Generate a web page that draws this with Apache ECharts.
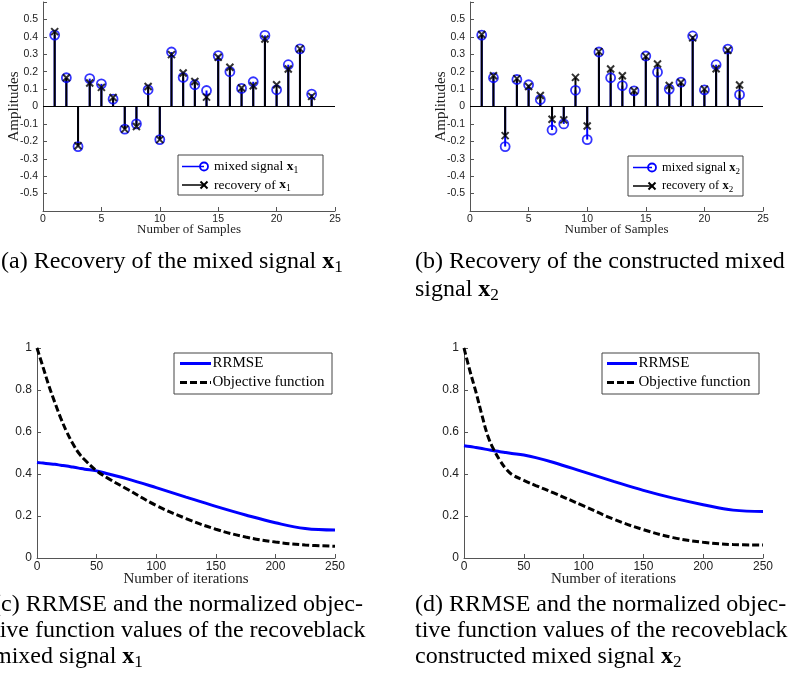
<!DOCTYPE html>
<html>
<head>
<meta charset="utf-8">
<script src="https://cdn.jsdelivr.net/npm/echarts@6/dist/echarts.min.js"></script>
<style>
  html, body { margin: 0; padding: 0; background: #fff; }
  #chart { width: 800px; height: 677px; }
</style>
</head>
<body>
<div id="chart"></div>
<script>
// sample index of the stem plots
const samples = [1, 2, 3, 4, 5, 6, 7, 8, 9, 10, 11, 12, 13, 14, 15, 16, 17, 18, 19, 20, 21, 22, 23];

// (a) mixed signal x1 and its recovery
const mixedX1 = [0.41, 0.165, -0.23, 0.16, 0.13, 0.042, -0.13, -0.10, 0.096, -0.19, 0.313, 0.167,
                 0.125, 0.092, 0.292, 0.20, 0.104, 0.142, 0.408, 0.096, 0.24, 0.331, 0.071];
const recovX1 = [0.43, 0.165, -0.225, 0.135, 0.11, 0.052, -0.13, -0.115, 0.115, -0.19, 0.298, 0.192,
                 0.144, 0.054, 0.283, 0.225, 0.106, 0.119, 0.388, 0.125, 0.215, 0.331, 0.058];

// (b) constructed mixed signal x2 and its recovery
const mixedX2 = [0.41, 0.165, -0.23, 0.155, 0.125, 0.04, -0.135, -0.10, 0.093, -0.19, 0.313, 0.165,
                 0.12, 0.09, 0.29, 0.197, 0.10, 0.14, 0.405, 0.095, 0.24, 0.33, 0.068];
const recovX2 = [0.413, 0.177, -0.167, 0.16, 0.115, 0.063, -0.073, -0.077, 0.167, -0.112, 0.315, 0.215,
                 0.177, 0.09, 0.288, 0.244, 0.121, 0.138, 0.394, 0.10, 0.217, 0.323, 0.123];

// iterations for (c) and (d)
const iters = [0, 5, 10, 15, 20, 25, 30, 35, 40, 50, 60, 75, 100, 125, 150, 175, 200, 225, 250];
const rrmseC = [0.455, 0.452, 0.449, 0.446, 0.442, 0.438, 0.433, 0.428, 0.423, 0.415, 0.40, 0.378,
                0.335, 0.29, 0.246, 0.205, 0.168, 0.14, 0.133];
const objC   = [1.0, 0.91, 0.82, 0.74, 0.665, 0.60, 0.545, 0.50, 0.468, 0.415, 0.378, 0.33,
                0.25, 0.188, 0.137, 0.10, 0.076, 0.062, 0.056];
const rrmseD = [0.535, 0.531, 0.526, 0.521, 0.516, 0.511, 0.506, 0.502, 0.498, 0.49, 0.478, 0.455,
                0.41, 0.365, 0.322, 0.285, 0.254, 0.228, 0.222];
const objD   = [1.0, 0.89, 0.79, 0.68, 0.58, 0.515, 0.465, 0.425, 0.398, 0.37, 0.345, 0.31,
                0.248, 0.185, 0.135, 0.097, 0.075, 0.064, 0.062];

const ampTicks = [-0.5, 0.5];      // outermost labelled amplitudes
const SERIF = 'Liberation Serif';
const SANS = 'Liberation Sans';
const BLUE = '#0000ff';
const AXIS = '#555';

const pairs = (xs, ys) => xs.map((x, i) => [x, ys[i]]);

function axisBase(gridIndex, fontSize) {
  return {
    type: 'value', gridIndex,
    nameMoveOverlap: false,
    axisLine: { onZero: false, lineStyle: { color: AXIS, width: 1 } },
    axisTick: { inside: true, length: 4, lineStyle: { color: AXIS } },
    splitLine: { show: false },
    axisLabel: { color: '#222', fontFamily: SANS, fontSize },
    nameTextStyle: { color: '#222', fontFamily: SERIF }
  };
}

function stemX(g) {
  return Object.assign(axisBase(g, 10.5), {
    min: 0, max: 25, interval: 5,
    name: 'Number of Samples', nameLocation: 'middle', nameGap: 12,
    nameTextStyle: { color: '#222', fontFamily: SERIF, fontSize: 13 },
    axisLabel: { color: '#222', fontFamily: SANS, fontSize: 10.5, margin: 3 }
  });
}
function stemY(g) {
  return Object.assign(axisBase(g, 10.5), {
    min: -0.6, max: 0.6, interval: 0.1,
    name: 'Amplitudes', nameLocation: 'middle', nameRotate: 90, nameGap: 21,
    nameTextStyle: { color: '#222', fontFamily: SERIF, fontSize: 15 },
    axisLabel: {
      color: '#222', fontFamily: SANS, fontSize: 10.5, margin: 5,
      formatter: v => (v < ampTicks[0] - 0.05 || v > ampTicks[1] + 0.05) ? '' : String(+v.toFixed(1))
    }
  });
}
function iterX(g) {
  return Object.assign(axisBase(g, 12), {
    min: 0, max: 250, interval: 50,
    name: 'Number of iterations', nameLocation: 'middle', nameGap: 14,
    nameTextStyle: { color: '#222', fontFamily: SERIF, fontSize: 15 },
    axisLabel: { color: '#222', fontFamily: SANS, fontSize: 12, margin: 3 }
  });
}
function iterY(g) {
  return Object.assign(axisBase(g, 12), {
    min: 0, max: 1, interval: 0.2,
    axisLabel: { color: '#222', fontFamily: SANS, fontSize: 12, margin: 5 }
  });
}

function stemSeries(g, mixed, recov) {
  const common = { xAxisIndex: g, yAxisIndex: g, barWidth: 2, barGap: '-100%' };
  return [
    Object.assign({ type: 'bar', data: pairs(samples, mixed), itemStyle: { color: BLUE } }, common),
    { type: 'scatter', xAxisIndex: g, yAxisIndex: g, data: pairs(samples, mixed),
      symbol: 'circle', symbolSize: 9,
      itemStyle: { color: 'transparent', borderColor: BLUE, borderWidth: 1.8 } },
    Object.assign({ type: 'bar', data: pairs(samples, recov), itemStyle: { color: '#000' },
      markLine: { silent: true, symbol: ['none', 'none'], label: { show: false },
        lineStyle: { color: '#000', width: 1, type: 'solid' }, data: [{ yAxis: 0 }] } }, common),
    { type: 'scatter', xAxisIndex: g, yAxisIndex: g, data: pairs(samples, recov),
      symbol: 'path://M0,0L10,10M10,0L0,10', symbolSize: 7,
      itemStyle: { color: 'transparent', borderColor: '#000', borderWidth: 2 } }
  ];
}

function curveSeries(g, rrmse, obj) {
  return [
    { type: 'line', xAxisIndex: g, yAxisIndex: g, data: pairs(iters, rrmse), smooth: 0.4,
      showSymbol: false, lineStyle: { color: BLUE, width: 3 } },
    { type: 'line', xAxisIndex: g, yAxisIndex: g, data: pairs(iters, obj), smooth: 0.4,
      showSymbol: false, lineStyle: { color: '#000', width: 3, type: [7, 3] } }
  ];
}

// MATLAB-like legend boxes
function xMark(cx, cy, r) {
  return [
    { type: 'line', shape: { x1: cx - r, y1: cy - r, x2: cx + r, y2: cy + r }, style: { stroke: '#000', lineWidth: 2 } },
    { type: 'line', shape: { x1: cx + r, y1: cy - r, x2: cx - r, y2: cy + r }, style: { stroke: '#000', lineWidth: 2 } }
  ];
}
const subRich = fs => ({
  n: { fontFamily: SERIF, fontSize: fs, lineHeight: fs + 4 },
  b: { fontFamily: SERIF, fontSize: fs, fontWeight: 'bold', lineHeight: fs + 4 },
  s: { fontFamily: SERIF, fontSize: fs * 0.72, lineHeight: fs * 0.72 + 1, verticalAlign: 'bottom' }
});
function legendText(x, y, text, fs) {
  return { type: 'text', x, y, style: { text, rich: subRich(fs), fill: '#000', verticalAlign: 'middle' } };
}
function stemLegend(x, y, w, h, l1, l2, idx, fs) {
  const r1 = y + 11.5, r2 = y + 30;
  return [
    { type: 'rect', shape: { x, y, width: w, height: h }, style: { fill: '#fff', stroke: '#444', lineWidth: 1 } },
    { type: 'line', shape: { x1: l1, y1: r1, x2: l2, y2: r1 }, style: { stroke: BLUE, lineWidth: 1.5 } },
    { type: 'circle', shape: { cx: l2, cy: r1, r: 4 }, style: { fill: 'none', stroke: BLUE, lineWidth: 1.8 } },
    legendText(l2 + 10, r1, '{n|mixed signal }{b|x}{s|' + idx + '}', fs),
    { type: 'line', shape: { x1: l1, y1: r2, x2: l2, y2: r2 }, style: { stroke: '#000', lineWidth: 1.5 } },
    ...xMark(l2, r2, 3.5),
    legendText(l2 + 10, r2, '{n|recovery of }{b|x}{s|' + idx + '}', fs)
  ];
}
function curveLegend(x, y, w, h, l1, l2) {
  const r1 = y + 10.5, r2 = y + 29.5;
  return [
    { type: 'rect', shape: { x, y, width: w, height: h }, style: { fill: '#fff', stroke: '#444', lineWidth: 1 } },
    { type: 'line', shape: { x1: l1, y1: r1, x2: l2, y2: r1 }, style: { stroke: BLUE, lineWidth: 3 } },
    legendText(l2 + 1.5, r1, '{n|RRMSE}', 15),
    { type: 'line', shape: { x1: l1, y1: r2, x2: l2, y2: r2 }, style: { stroke: '#000', lineWidth: 3, lineDash: [7, 3] } },
    legendText(l2 + 1.5, r2, '{n|Objective function}', 15)
  ];
}
function caption(x, y, text) {
  return { type: 'text', x, y, style: { text, rich: subRich(24), fill: '#000', verticalAlign: 'middle' } };
}

const chart = echarts.init(document.getElementById('chart'), null, { renderer: 'canvas' });
chart.setOption({
  animation: false,
  backgroundColor: '#fff',
  grid: [
    { left: 43, top: 2, width: 292, height: 209 },
    { left: 470, top: 2, width: 293, height: 209 },
    { left: 37, top: 348, width: 298, height: 210 },
    { left: 464, top: 348, width: 299, height: 210 }
  ],
  xAxis: [stemX(0), stemX(1), iterX(2), iterX(3)],
  yAxis: [stemY(0), stemY(1), iterY(2), iterY(3)],
  series: [
    ...stemSeries(0, mixedX1, recovX1),
    ...stemSeries(1, mixedX2, recovX2),
    ...curveSeries(2, rrmseC, objC),
    ...curveSeries(3, rrmseD, objD)
  ],
  graphic: { elements: [
    ...stemLegend(178, 155, 145, 40, 182, 204, 1, 13.5),
    ...stemLegend(628, 156, 115, 40, 633, 652, 2, 12.5),
    ...curveLegend(174, 353, 158, 41, 180, 211),
    ...curveLegend(602, 353, 157, 41, 607, 637),
    caption(1, 262, '{n|(a) Recovery of the mixed signal }{b|x}{s|1}'),
    caption(415, 262, '{n|(b) Recovery of the constructed mixed}'),
    caption(415, 290, '{n|signal }{b|x}{s|2}'),
    caption(-7, 605, '{n|(c) RRMSE and the normalized objec-}'),
    caption(-7, 631, '{n|tive function values of the recoveblack}'),
    caption(-7, 657, '{n|mixed signal }{b|x}{s|1}'),
    caption(415, 605, '{n|(d) RRMSE and the normalized objec-}'),
    caption(415, 631, '{n|tive function values of the recoveblack}'),
    caption(415, 657, '{n|constructed mixed signal }{b|x}{s|2}')
  ].map(e => Object.assign({ z: 100 }, e)) }
});
</script>
</body>
</html>
